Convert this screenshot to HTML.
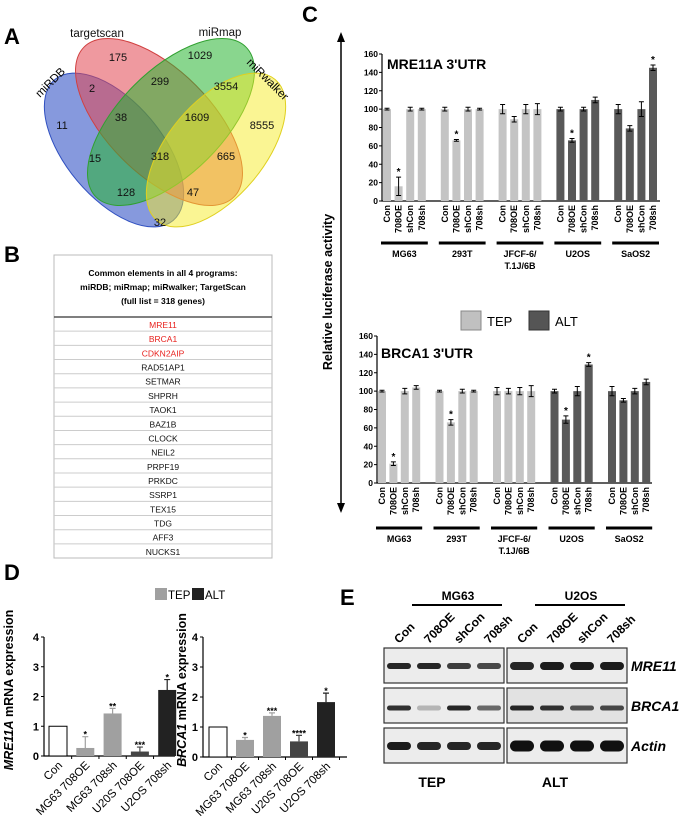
<!DOCTYPE html>
<html><head><meta charset="utf-8">
<style>
html,body{margin:0;padding:0;background:#fff;}
svg{display:block;font-family:"Liberation Sans",Arial,sans-serif;}
.b{font-weight:bold;}
</style></head>
<body>
<svg id="fig" width="684" height="837" viewBox="0 0 684 837" xmlns="http://www.w3.org/2000/svg">
  <text x="4" y="44" font-size="22" class="b">A</text>
  <text x="302" y="22" font-size="22" class="b">C</text>
  <text x="4" y="262" font-size="22" class="b">B</text>
  <text x="4" y="580" font-size="22" class="b">D</text>
  <text x="340" y="605" font-size="22" class="b">E</text>

  <g id="venn">
    <ellipse cx="114" cy="150" rx="92" ry="48" transform="rotate(50 114 150)" fill="rgba(60,90,200,0.62)" stroke="#3050c0"/>
    <ellipse cx="159" cy="122" rx="106" ry="52" transform="rotate(45 159 122)" fill="rgba(225,70,80,0.55)" stroke="#d04040"/>
    <ellipse cx="171" cy="122" rx="106" ry="52" transform="rotate(-45 171 122)" fill="rgba(40,180,50,0.55)" stroke="#30a030"/>
    <ellipse cx="216" cy="150" rx="92" ry="48" transform="rotate(-50 216 150)" fill="rgba(245,235,40,0.5)" stroke="#e0d020"/>
    <g font-size="11" fill="#111" text-anchor="middle">
      <text x="118" y="61">175</text><text x="200" y="59">1029</text>
      <text x="92" y="92">2</text><text x="160" y="85">299</text><text x="226" y="90">3554</text>
      <text x="62" y="129">11</text><text x="121" y="121">38</text><text x="197" y="121">1609</text><text x="262" y="129">8555</text>
      <text x="95" y="162">15</text><text x="160" y="160">318</text><text x="226" y="160">665</text>
      <text x="126" y="196">128</text><text x="193" y="196">47</text><text x="160" y="226">32</text>
      <text x="97" y="37" font-size="11.5">targetscan</text>
      <text x="220" y="36" font-size="11.5">miRmap</text>
    </g>
    <text x="0" y="0" font-size="11.5" transform="translate(40,98) rotate(-45)">miRDB</text>
    <text x="0" y="0" font-size="11.5" transform="translate(246,63) rotate(45)">miRwalker</text>
  </g>

  <g id="table">
    <rect x="54" y="255" width="218" height="303" fill="#fff" stroke="#bbb"/>
    <text x="163" y="276" font-size="8.5" class="b" text-anchor="middle">Common elements in all 4 programs:</text>
    <text x="163" y="290" font-size="8.5" class="b" text-anchor="middle">miRDB; miRmap; miRwalker; TargetScan</text>
    <text x="163" y="304" font-size="8.5" class="b" text-anchor="middle">(full list = 318 genes)</text>
    <line x1="54" y1="317" x2="272" y2="317" stroke="#555" stroke-width="1.5"/>
  </g>

  <g id="panelC">
    <line x1="341" y1="40" x2="341" y2="505" stroke="#000" stroke-width="1.5"/>
    <polygon points="341,32 337,42 345,42" fill="#000"/>
    <polygon points="341,513 337,503 345,503" fill="#000"/>
    <text transform="translate(332,292) rotate(-90)" font-size="12.5" class="b" text-anchor="middle">Relative luciferase activity</text>
    <text x="387" y="69" font-size="14" class="b">MRE11A 3'UTR</text>
    <text x="381" y="358" font-size="14" class="b">BRCA1 3'UTR</text>
    <rect x="461" y="311" width="20" height="19" fill="#c0c0c0" stroke="#888"/>
    <text x="487" y="326" font-size="13">TEP</text>
    <rect x="529" y="311" width="20" height="19" fill="#555" stroke="#333"/>
    <text x="555" y="326" font-size="13">ALT</text>
    <g id="cTop"></g><g id="cBot"></g>
  </g>

  <g id="panelD">
    <rect x="155" y="588" width="12" height="12" fill="#a0a0a0"/>
    <text x="168" y="599" font-size="11.5">TEP</text>
    <rect x="192" y="588" width="12" height="12" fill="#222"/>
    <text x="205" y="599" font-size="11.5">ALT</text>
    <text transform="translate(13,690) rotate(-90)" font-size="12.5" class="b" text-anchor="middle"><tspan font-style="italic">MRE11A</tspan> mRNA expression</text>
    <text transform="translate(186,690) rotate(-90)" font-size="12.5" class="b" text-anchor="middle"><tspan font-style="italic">BRCA1</tspan> mRNA expression</text>
    <g id="dLeft"></g><g id="dRight"></g>
  </g>

  <g id="panelE"></g>
</svg>
<script>
const NS='http://www.w3.org/2000/svg';
function mk(parent,tag,attrs,txt){const e=document.createElementNS(NS,tag);for(const k in attrs)e.setAttribute(k,attrs[k]);if(txt!==undefined)e.textContent=txt;parent.appendChild(e);return e;}

const genes=['MRE11','BRCA1','CDKN2AIP','RAD51AP1','SETMAR','SHPRH','TAOK1','BAZ1B','CLOCK','NEIL2','PRPF19','PRKDC','SSRP1','TEX15','TDG','AFF3','NUCKS1'];
const tbl=document.getElementById('table');
genes.forEach((g,i)=>{
  const y=317+i*14.18;
  if(i>0){const l=mk(tbl,'line',{x1:54,x2:272,y1:y,y2:y,stroke:'#ccc'});
  
  }
  const t=mk(tbl,'text',{x:163,y:y+11,'font-size':8.5,'text-anchor':'middle',fill:i<3?'#e8221e':'#111'},g);
  
  
});

const cGroups=['MG63','293T','JFCF-6/','U2OS','SaOS2'];
const cConds=['Con','708OE','shCon','708sh'];
const cTicks=[0,20,40,60,80,100,120,140,160];
const mreVals=[[100,16,100,100],[100,66,100,100],[100,89,100,100],[100,66,100,110],[100,79,100,145]];
const mreErr=[[1,10,2,1],[2,1,2,1],[5,3,5,6],[2,2,2,3],[5,3,8,3]];
const mreStar=[[0,1,0,0],[0,1,0,0],[0,0,0,0],[0,1,0,0],[0,0,0,1]];
const brcaVals=[[100,21,100,104],[100,66,100,100],[100,100,100,100],[100,69,100,129],[100,90,100,110]];
const brcaErr=[[1,2,3,2],[1,3,2,1],[4,3,4,6],[2,4,5,2],[5,2,3,3]];
const brcaStar=[[0,1,0,0],[0,1,0,0],[0,0,0,0],[0,1,0,1],[0,0,0,0]];
const cType=['TEP','TEP','TEP','ALT','ALT'];

function cChart(gid,vals,errs,stars,o){
  const g=document.getElementById(gid);
  const y=v=>o.y0-(v/160)*(o.y0-o.y160);
  const x=(gi,ci)=>o.x0+gi*o.gs+ci*o.bs;
  const ax=mk(g,'path',{d:`M${o.ax},${o.y160}V${o.y0}H${o.axEnd}`,stroke:'#000',fill:'none','stroke-width':1.2});
  
  cTicks.forEach(t=>{
    mk(g,'line',{x1:o.ax-3,x2:o.ax,y1:y(t),y2:y(t),stroke:'#000'});
    const tl=mk(g,'text',{x:o.ax-4,y:y(t)+3,'font-size':8.5,'font-weight':'bold','text-anchor':'end'},t);
    
  });
  vals.forEach((gv,gi)=>{
    gv.forEach((v,ci)=>{
      const cx=x(gi,ci),w=8;
      const r=mk(g,'rect',{x:cx-w/2,y:y(v),width:w,height:o.y0-y(v),fill:cType[gi]==='TEP'?'#c4c4c4':'#595959'});
      
      
      const e=errs[gi][ci];
      mk(g,'path',{d:`M${cx},${y(v+e)}V${y(v-e)}M${cx-2.5},${y(v+e)}H${cx+2.5}M${cx-2.5},${y(v-e)}H${cx+2.5}`,stroke:'#000',fill:'none','stroke-width':1});
      if(stars[gi][ci]){const s=mk(g,'text',{x:cx,y:y(v+e)-2,'font-size':10,'text-anchor':'middle','font-weight':'bold'},'*');
        }
      const tl=mk(g,'text',{transform:`translate(${cx+3},${o.y0+4}) rotate(-90)`,'font-size':9,'font-weight':'bold','text-anchor':'end'},cConds[ci]);
      
    });
    const gl=mk(g,'line',{x1:x(gi,0)-6,x2:x(gi,3)+6,y1:o.lineY,y2:o.lineY,stroke:'#000','stroke-width':3});
    
    const gx=(x(gi,0)+x(gi,3))/2;
    const lt=mk(g,'text',{x:gx,y:o.lineY+14,'font-size':9,'font-weight':'bold','text-anchor':'middle'},cGroups[gi]);
    
    if(cGroups[gi]==='JFCF-6/'){mk(g,'text',{x:gx,y:o.lineY+26,'font-size':9,'font-weight':'bold','text-anchor':'middle'},'T.1J/6B');}
  });
}
cChart('cTop',mreVals,mreErr,mreStar,{ax:382,axEnd:660,y0:201,y160:54,x0:387,gs:57.8,bs:11.6,lineY:243});
cChart('cBot',brcaVals,brcaErr,brcaStar,{ax:377,axEnd:652,y0:483,y160:336,x0:382,gs:57.5,bs:11.4,lineY:528});

const dCats=['Con','MG63 708OE','MG63 708sh','U2OS 708OE','U2OS 708sh'];
const dTicks=[0,1,2,3,4];
const mreMrna=[1,0.27,1.43,0.15,2.22];
const mreMrnaErr=[0,0.38,0.17,0.15,0.35];
const mreMrnaSig=['','*','**','***','*'];
const brcaMrna=[1,0.57,1.37,0.52,1.83];
const brcaMrnaErr=[0,0.08,0.1,0.2,0.3];
const brcaMrnaSig=['','*','***','****','*'];
const dFill=['#fff','#a0a0a0','#a0a0a0','#444','#222'];
const dLabels2=['Con','MG63 708OE','MG63 708sh','U20S 708OE','U2OS 708sh'];
function dChart(gid,vals,errs,sig,o){
  const g=document.getElementById(gid);
  const y=v=>o.y0-(v/4)*(o.y0-o.y4);
  const ax=mk(g,'path',{d:`M${o.ax},${o.y4}V${o.y0}H${o.axEnd}`,stroke:'#000',fill:'none','stroke-width':1.2});
  
  dTicks.forEach(t=>{
    mk(g,'line',{x1:o.ax-3,x2:o.ax,y1:y(t),y2:y(t),stroke:'#000'});
    const tl=mk(g,'text',{x:o.ax-5,y:y(t)+4,'font-size':11,'font-weight':'bold','text-anchor':'end'},t);
    
  });
  vals.forEach((v,i)=>{
    const cx=o.x0+i*o.s,w=18;
    mk(g,'line',{x1:cx+o.s/2,x2:cx+o.s/2,y1:o.y0,y2:o.y0+3,stroke:'#000'});
    const r=mk(g,'rect',{x:cx-w/2,y:y(v),width:w,height:o.y0-y(v),fill:dFill[i],stroke:i===0?'#000':'none'});
    
    
    if(errs[i]>0){const t=y(v+errs[i]);
      mk(g,'path',{d:`M${cx},${y(v)}V${t}M${cx-3},${t}H${cx+3}`,stroke:dFill[i],fill:'none','stroke-width':1.2});}
    if(sig[i]){const s=mk(g,'text',{x:cx,y:y(v+errs[i])+1,'font-size':9,'text-anchor':'middle','font-weight':'bold'},sig[i]);
      }
    const tl=mk(g,'text',{transform:`translate(${cx+5},${o.y0+10}) rotate(-45)`,'font-size':11.5,'text-anchor':'end'},dLabels2[i]);
    
  });
}
dChart('dLeft',mreMrna,mreMrnaErr,mreMrnaSig,{ax:44,axEnd:175,y0:756,y4:637,x0:58,s:27.3});
dChart('dRight',brcaMrna,brcaMrnaErr,brcaMrnaSig,{ax:203,axEnd:347,y0:757,y4:637,x0:218,s:27});

const E=document.getElementById('panelE');
const lanes=['Con','708OE','shCon','708sh'];
const blots=[{x:384,label:'MG63',cond:'TEP'},{x:507,label:'U2OS',cond:'ALT'}];
const rows=[{y:648,name:'MRE11'},{y:688,name:'BRCA1'},{y:728,name:'Actin'}];
const bandI=[[[0.9,0.9,0.8,0.75],[0.85,0.25,0.9,0.6],[0.95,0.9,0.9,0.9]],[[0.9,0.95,0.95,0.95],[0.9,0.85,0.7,0.75],[1,1,1,1]]];
blots.forEach((b,bi)=>{
  const bl=mk(E,'line',{x1:b.x+28,x2:b.x+118,y1:605,y2:605,stroke:'#000','stroke-width':2});
  
  const bt=mk(E,'text',{x:b.x+74,y:600,'font-size':12,'font-weight':'bold','text-anchor':'middle'},b.label);
  
  lanes.forEach((l,li)=>{
    const lx=b.x+15+li*30;
    const t=mk(E,'text',{transform:`translate(${lx},${644}) rotate(-45)`,'font-size':12,'font-weight':'bold'},l);
    
  });
  rows.forEach((r,ri)=>{
    const box=mk(E,'rect',{x:b.x,y:r.y,width:120,height:35,fill:ri===1&&bi===1?'#e2e2e2':'#ececec',stroke:'#333','stroke-width':1.2});
    
    
    lanes.forEach((l,li)=>{
      const lx=b.x+15+li*30;
      const h=ri===2?(bi?11:8):(ri===0?(bi?8:6):5);
      const op=bandI[bi][ri][li];
      mk(E,'rect',{x:lx-12,y:r.y+18-h/2+(ri===1?2:0),width:24,height:h,rx:h/2,fill:'#111','fill-opacity':op});
    });
  });
  const ct=mk(E,'text',{x:b.x+48,y:787,'font-size':14,'font-weight':'bold','text-anchor':'middle'},b.cond);
  
});
rows.forEach(r=>{
  const t=mk(E,'text',{x:631,y:r.y+23,'font-size':14,'font-weight':'bold','font-style':'italic'},r.name);
  
});
</script>
</body></html>
